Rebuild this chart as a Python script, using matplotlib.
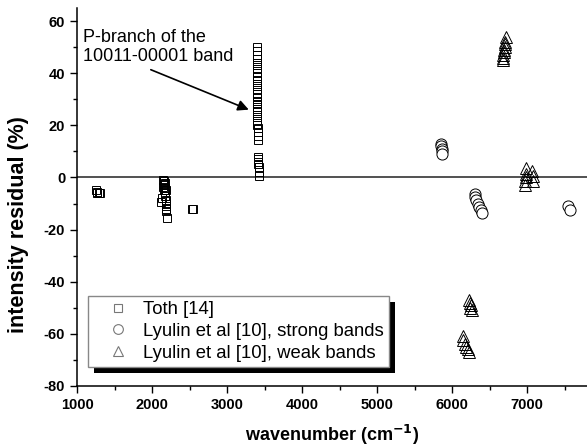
import matplotlib
matplotlib.use('Agg')
import matplotlib.pyplot as plt
from matplotlib.patches import Rectangle
from matplotlib.ticker import MultipleLocator

plt.rcParams['font.family'] = ['Liberation Sans', 'DejaVu Sans']
plt.rcParams['axes.unicode_minus'] = False

# Toth [14] (squares)
toth_x = [1250, 1270, 1290, 1300, 1260,
          2150, 2160, 2170, 2155, 2165, 2150, 2170, 2160, 2175, 2180, 2130, 2120,
          2170, 2180, 2185, 2190, 2185, 2190, 2195,
          2530, 2550,
          3395, 3395, 3396, 3397, 3397, 3398, 3398, 3399, 3399, 3400, 3400, 3401,
          3401, 3402, 3402, 3403, 3403, 3404, 3404, 3405, 3405, 3406, 3406, 3407,
          3407, 3408, 3408,
          3415, 3415, 3418, 3418, 3420, 3430, 3420]
toth_y = [-5, -5.5, -6, -6, -6,
          -1, -1.5, -2, -2.5, -3, -3.5, -4, -5, -6, -5, -8, -9.5,
          -7, -8.5, -10, -11, -12, -13, -15.5,
          -12, -12,
          50, 48.5, 47, 45.5, 44, 43, 41.5, 40, 39, 37.5, 36, 35,
          33.5, 32, 31, 29.5, 28, 27, 25.5, 24, 23, 21.5, 20, 19,
          17.5, 16, 14.5,
          8, 7, 6, 5, 4, 2, 0.5]

# Lyulin et al [10], strong bands (circles)
strong_x = [5850, 5855, 5860, 5865, 5870,
            6300, 6310, 6320, 6340, 6360, 6380, 6400,
            7540, 7570]
strong_y = [13, 12, 11, 10, 9,
            -6.5, -7.5, -8.5, -10, -11.5, -12.5, -13.5,
            -11, -12.5]

# Lyulin et al [10], weak bands (triangles)
weak_x = [6720, 6710, 6705, 6700, 6695, 6690, 6685, 6680, 6680,
          6990, 6985, 6980, 6975, 6975, 7070, 7075, 7080,
          6230, 6240, 6250, 6240, 6260,
          6140, 6150, 6170, 6190, 6210, 6220]
weak_y = [54, 52, 51, 50, 49, 48, 47, 46, 45,
          3.5, 1.5, 0, -1.5, -3, 2.5, 0.5, -1.5,
          -47, -48, -49, -50, -51,
          -61, -62.5, -64, -65, -66, -67]

fig = plt.figure(figsize=(5.87, 4.47), dpi=100)
ax = fig.add_axes([0.1312, 0.1365, 0.8688, 0.8456])

ax.axhline(0, color='#222222', lw=1.1, zorder=1)

ax.plot(toth_x, toth_y, ls='none', marker='s', ms=6, mfc='none', mec='black', mew=0.7, zorder=3)
ax.plot(strong_x, strong_y, ls='none', marker='o', ms=8, mfc='white', mec='black', mew=0.7, zorder=3)
ax.plot(weak_x, weak_y, ls='none', marker='^', ms=8, mfc='none', mec='black', mew=0.7, zorder=3)

# legend proxies (grey markers as in the original)
h1, = ax.plot([], [], ls='none', marker='s', ms=6, mfc='none', mec='#777777', mew=0.8, label='Toth [14]')
h2, = ax.plot([], [], ls='none', marker='o', ms=7, mfc='none', mec='#777777', mew=0.8, label='Lyulin et al [10], strong bands')
h3, = ax.plot([], [], ls='none', marker='^', ms=7, mfc='none', mec='#777777', mew=0.8, label='Lyulin et al [10], weak bands')
leg = ax.legend(handles=[h1, h2, h3], loc='lower left', bbox_to_anchor=(0.022, 0.05),
                fontsize=13.3, frameon=True, fancybox=False, edgecolor='#888888',
                framealpha=1, borderpad=0.3, labelspacing=0.25, handletextpad=0.05,
                handlelength=2.6, borderaxespad=0)
leg.get_frame().set_linewidth(1.0)
leg.set_zorder(6)

ax.annotate('P-branch of the\n10011-00001 band', xy=(3290, 26), xytext=(1080, 43),
            fontsize=13, ha='left', va='bottom', linespacing=1.15,
            arrowprops=dict(arrowstyle='-|>', color='black', lw=1.2, mutation_scale=16,
                            shrinkA=3, shrinkB=0, relpos=(0.38, 0)))

ax.set_xlim(1000, 7800)
ax.set_ylim(-80, 65)
ax.set_xticks([1000, 2000, 3000, 4000, 5000, 6000, 7000])
ax.set_yticks([-80, -60, -40, -20, 0, 20, 40, 60])
ax.xaxis.set_minor_locator(MultipleLocator(500))
ax.yaxis.set_minor_locator(MultipleLocator(10))
ax.tick_params(which='major', direction='out', length=5, width=1, labelsize=10.5)
ax.tick_params(which='minor', direction='out', length=3, width=1)
for lbl in ax.get_xticklabels() + ax.get_yticklabels():
    lbl.set_fontweight('bold')

for s in ['top', 'right']:
    ax.spines[s].set_visible(False)
ax.spines['left'].set_linewidth(1.1)
ax.spines['bottom'].set_linewidth(1.1)

ax.set_xlabel('wavenumber (cm$^{\\mathbf{-1}}$)', fontsize=13, fontweight='bold', labelpad=8)
ax.set_ylabel('intensity residual (%)', fontsize=15.5, fontweight='bold')
ax.yaxis.set_label_coords(-0.094, 0.426)

# black drop shadow behind the legend box
fig.canvas.draw()
bb = leg.get_frame().get_window_extent()
inv = fig.transFigure.inverted()
(x0, y0), (x1, y1) = inv.transform([[bb.x0 + 6, bb.y0 - 6], [bb.x1 + 6, bb.y1 - 6]])
ax.add_artist(Rectangle((x0, y0), x1 - x0, y1 - y0, transform=fig.transFigure,
                        facecolor='black', edgecolor='none', zorder=5, clip_on=False))

fig.savefig('out.png', dpi=100)
